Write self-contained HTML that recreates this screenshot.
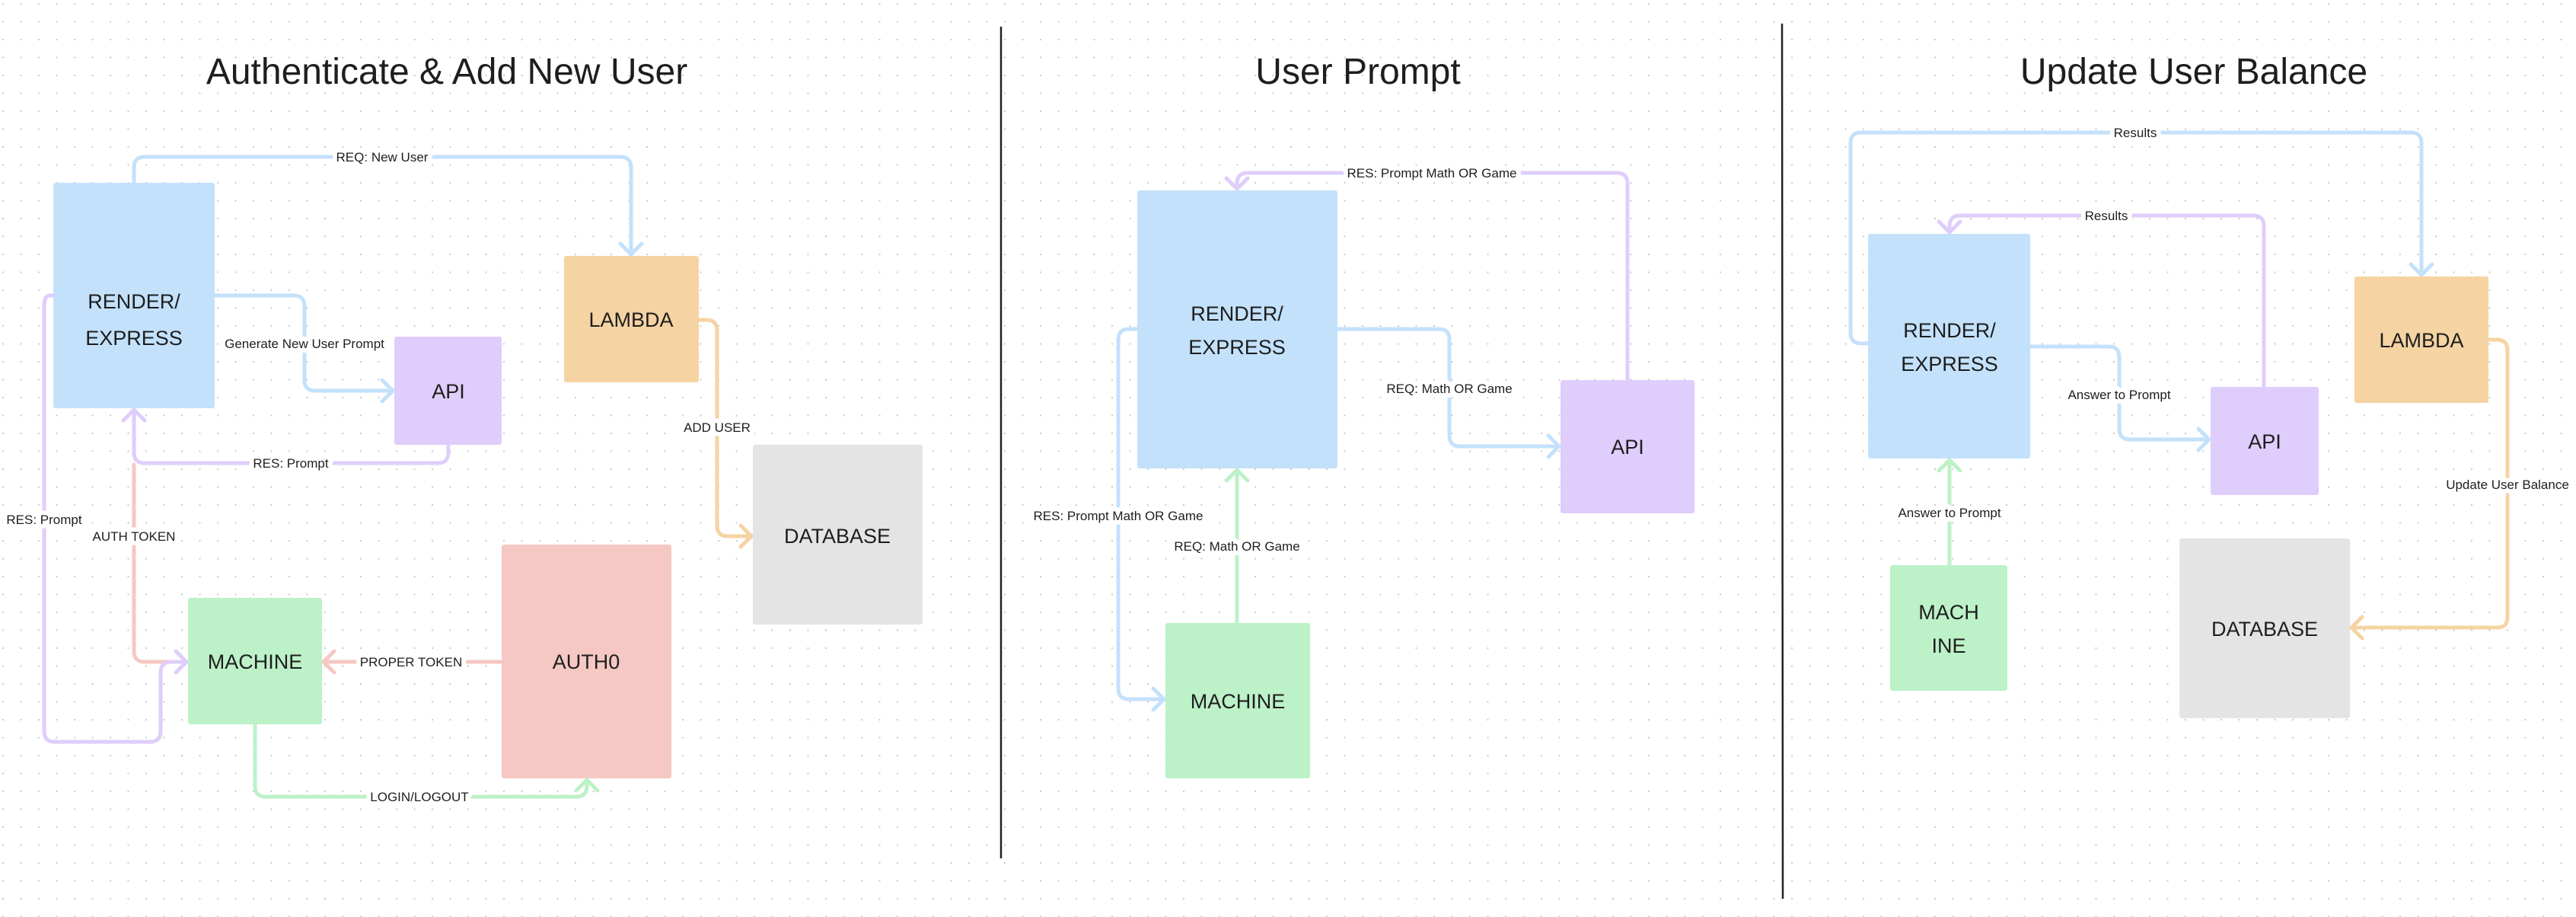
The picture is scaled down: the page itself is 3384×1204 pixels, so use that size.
<!DOCTYPE html>
<html><head><meta charset="utf-8"><style>
html,body{margin:0;padding:0;background:#fff;}
svg{display:block;}
text{font-family:"Liberation Sans",sans-serif;fill:#1e1e1e;}
.t{font-size:48px;text-anchor:middle;}
.b{font-size:27px;text-anchor:middle;}
.l{font-size:17px;text-anchor:middle;paint-order:stroke;stroke:#fff;stroke-width:12px;stroke-linejoin:round;}
path{fill:none;stroke-width:5;stroke-linecap:round;stroke-linejoin:round;}
.bl{stroke:#c3e1fb}.pu{stroke:#dfcdfb}.pk{stroke:#f5c8c3}.gr{stroke:#bdf1c8}.or{stroke:#f5d3a2}
</style></head><body>
<svg width="3384" height="1204" viewBox="0 0 3384 1204" xmlns="http://www.w3.org/2000/svg">
<defs><pattern id="d" x="3" y="4" width="23.5" height="23.5" patternUnits="userSpaceOnUse"><circle cx="1" cy="1" r="1.1" fill="#c8c8c8"/></pattern></defs>
<rect width="3384" height="1204" fill="url(#d)"/>

<!-- separators -->
<line x1="1315" y1="35" x2="1315" y2="1127" stroke="#222" stroke-width="2.5"/>
<line x1="2341" y1="31" x2="2342" y2="1180" stroke="#222" stroke-width="2.5"/>

<!-- titles -->
<text class="t" x="587" y="110">Authenticate &amp; Add New User</text>
<text class="t" x="1784" y="110">User Prompt</text>
<text class="t" x="2882" y="110">Update User Balance</text>

<!-- PANEL 1 boxes -->
<rect x="70" y="240" width="212" height="296" rx="3" fill="#c3e1fb"/>
<text class="b" x="176" y="405">RENDER/</text><text class="b" x="176" y="453">EXPRESS</text>
<rect x="518" y="442" width="141" height="142" rx="3" fill="#dfcdfb"/>
<text class="b" x="589" y="523">API</text>
<rect x="741" y="336" width="177" height="166" rx="3" fill="#f5d3a2"/>
<text class="b" x="829" y="429">LAMBDA</text>
<rect x="989" y="584" width="223" height="236" rx="3" fill="#e4e4e4"/>
<text class="b" x="1100" y="713">DATABASE</text>
<rect x="247" y="785" width="176" height="166" rx="3" fill="#bdf1c8"/>
<text class="b" x="335" y="878">MACHINE</text>
<rect x="659" y="715" width="223" height="307" rx="3" fill="#f5c8c3"/>
<text class="b" x="770" y="878">AUTH0</text>

<!-- PANEL 1 connectors -->
<path class="bl" d="M176 240 V220 Q176 206 190 206 H815 Q829 206 829 220 V334 M815 320 L829 334 L843 320"/>
<path class="bl" d="M282 388 H386 Q400 388 400 402 V499 Q400 513 414 513 H516 M502 499 L516 513 L502 527"/>
<path class="pu" d="M589 584 V594 Q589 608 575 608 H190 Q176 608 176 594 V538 M162 552 L176 538 L190 552"/>
<path class="pk" d="M176 610 V855 Q176 869 190 869 H245"/>
<path class="pu" d="M70 388 H66 Q58 388 58 402 V960 Q58 974 72 974 H197 Q211 974 211 960 V883 Q211 869 225 869 H245 M231 855 L245 869 L231 883"/>
<path class="pk" d="M659 869 H425 M439 855 L425 869 L439 883"/>
<path class="gr" d="M335 951 V1032 Q335 1046 349 1046 H757 Q771 1046 771 1032 V1024 M757 1038 L771 1024 L785 1038"/>
<path class="or" d="M918 420 H928 Q942 420 942 434 V690 Q942 704 956 704 H987 M973 690 L987 704 L973 718"/>
<text class="l" x="502" y="212">REQ: New User</text>
<text class="l" x="400" y="457">Generate New User Prompt</text>
<text class="l" x="382" y="614">RES: Prompt</text>
<text class="l" x="176" y="710">AUTH TOKEN</text>
<text class="l" x="58" y="688">RES: Prompt</text>
<text class="l" x="540" y="875">PROPER TOKEN</text>
<text class="l" x="551" y="1052">LOGIN/LOGOUT</text>
<text class="l" x="942" y="567">ADD USER</text>

<!-- PANEL 2 -->
<rect x="1494" y="250" width="263" height="365" rx="3" fill="#c3e1fb"/>
<text class="b" x="1625" y="421">RENDER/</text><text class="b" x="1625" y="465">EXPRESS</text>
<rect x="2050" y="499" width="176" height="175" rx="3" fill="#dfcdfb"/>
<text class="b" x="2138" y="596">API</text>
<rect x="1531" y="818" width="190" height="204" rx="3" fill="#bdf1c8"/>
<text class="b" x="1626" y="930">MACHINE</text>
<path class="pu" d="M2138 499 V241 Q2138 227 2124 227 H1639 Q1625 227 1625 241 V248 M1611 234 L1625 248 L1639 234"/>
<path class="bl" d="M1757 432 H1890 Q1904 432 1904 446 V572 Q1904 586 1918 586 H2048 M2034 572 L2048 586 L2034 600"/>
<path class="bl" d="M1494 432 H1483 Q1469 432 1469 446 V904 Q1469 918 1483 918 H1529 M1515 904 L1529 918 L1515 932"/>
<path class="gr" d="M1625 818 V617 M1611 631 L1625 617 L1639 631"/>
<text class="l" x="1881" y="233">RES: Prompt Math OR Game</text>
<text class="l" x="1904" y="516">REQ: Math OR Game</text>
<text class="l" x="1469" y="683">RES: Prompt Math OR Game</text>
<text class="l" x="1625" y="723">REQ: Math OR Game</text>

<!-- PANEL 3 -->
<rect x="2454" y="307" width="213" height="295" rx="3" fill="#c3e1fb"/>
<text class="b" x="2561" y="443">RENDER/</text><text class="b" x="2561" y="487">EXPRESS</text>
<rect x="2904" y="508" width="142" height="142" rx="3" fill="#dfcdfb"/>
<text class="b" x="2975" y="589">API</text>
<rect x="3093" y="363" width="176" height="166" rx="3" fill="#f5d3a2"/>
<text class="b" x="3181" y="456">LAMBDA</text>
<rect x="2863" y="707" width="224" height="236" rx="3" fill="#e4e4e4"/>
<text class="b" x="2975" y="835">DATABASE</text>
<rect x="2483" y="742" width="154" height="165" rx="3" fill="#bdf1c8"/>
<text class="b" x="2560" y="813">MACH</text><text class="b" x="2560" y="857">INE</text>
<path class="bl" d="M2454 451 H2445 Q2431 451 2431 437 V188 Q2431 174 2445 174 H3167 Q3181 174 3181 188 V361 M3167 347 L3181 361 L3195 347"/>
<path class="pu" d="M2974 508 V297 Q2974 283 2960 283 H2575 Q2561 283 2561 297 V305 M2547 291 L2561 305 L2575 291"/>
<path class="bl" d="M2667 455 H2770 Q2784 455 2784 469 V563 Q2784 577 2798 577 H2902 M2888 563 L2902 577 L2888 591"/>
<path class="gr" d="M2561 742 V604 M2547 618 L2561 604 L2575 618"/>
<path class="or" d="M3269 446 H3280 Q3294 446 3294 460 V810 Q3294 824 3280 824 H3089 M3103 810 L3089 824 L3103 838"/>
<text class="l" x="2805" y="180">Results</text>
<text class="l" x="2767" y="289">Results</text>
<text class="l" x="2784" y="524">Answer to Prompt</text>
<text class="l" x="2561" y="679">Answer to Prompt</text>
<text class="l" x="3294" y="642">Update User Balance</text>
</svg>
</body></html>
